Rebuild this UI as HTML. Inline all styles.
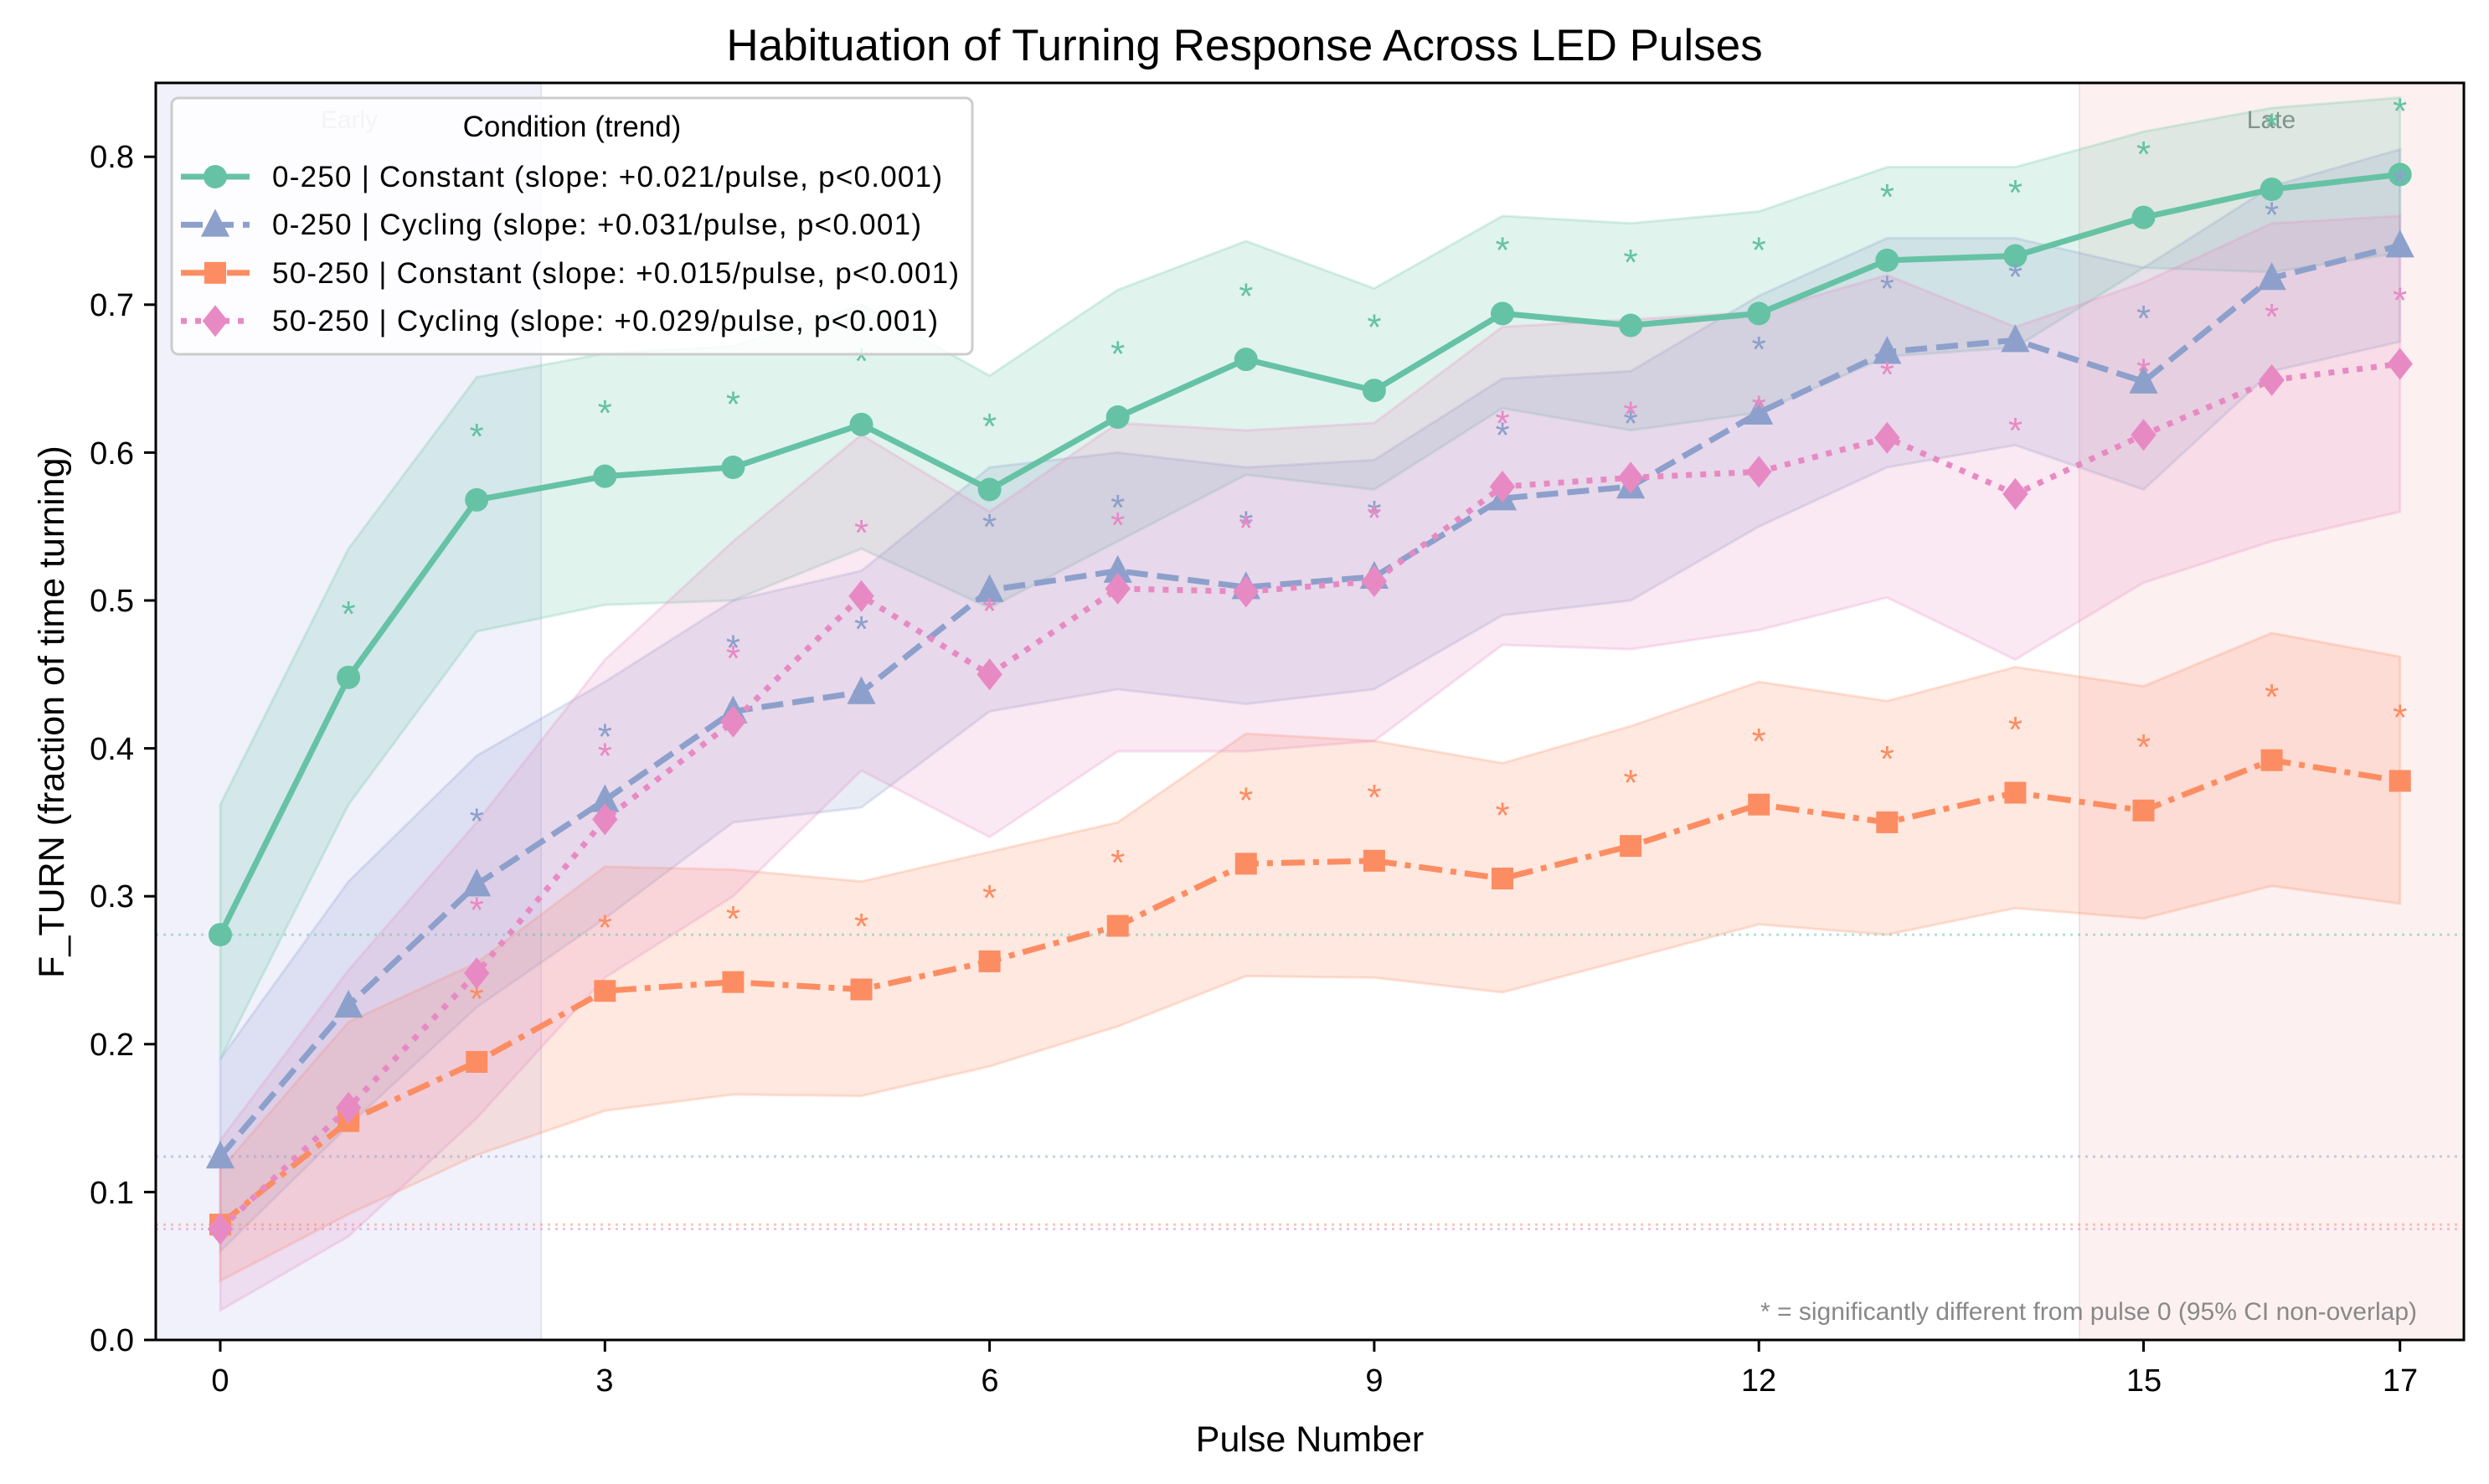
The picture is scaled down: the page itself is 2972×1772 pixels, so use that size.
<!DOCTYPE html>
<html><head><meta charset="utf-8"><style>
html,body{margin:0;padding:0;background:#fff;}
svg{display:block;font-family:"Liberation Sans","DejaVu Sans",sans-serif;}
</style></head><body>
<svg id="c" width="2972" height="1772" viewBox="0 0 2972 1772" xmlns="http://www.w3.org/2000/svg">
<rect width="2972" height="1772" fill="#fff"/>
<rect x="186" y="99" width="460" height="1501" fill="#f1f1fc"/>
<line x1="646" y1="99" x2="646" y2="1600" stroke="#e2e2f6" stroke-width="2"/>
<rect x="2483" y="99" width="459" height="1501" fill="#fdf0f0"/>
<line x1="2483" y1="99" x2="2483" y2="1600" stroke="#f9dede" stroke-width="2"/>
<text x="417" y="153" font-size="30" fill="#999" text-anchor="middle" opacity="0.5">Early</text>
<text x="2712" y="153" font-size="30" fill="#888" text-anchor="middle">Late</text>
<g id="data"></g>
<rect x="186" y="99" width="2756" height="1501" fill="none" stroke="#000" stroke-width="3"/>
<g id="ticks" stroke="#000" stroke-width="3"></g>
<g font-size="38" fill="#000" text-anchor="end">
<text x="160" y="1613">0.0</text>
<text x="160" y="1437">0.1</text>
<text x="160" y="1260">0.2</text>
<text x="160" y="1083">0.3</text>
<text x="160" y="907">0.4</text>
<text x="160" y="730">0.5</text>
<text x="160" y="554">0.6</text>
<text x="160" y="377">0.7</text>
<text x="160" y="200">0.8</text>
</g>
<g font-size="38" fill="#000" text-anchor="middle">
<text x="263" y="1661">0</text>
<text x="722" y="1661">3</text>
<text x="1182" y="1661">6</text>
<text x="1641" y="1661">9</text>
<text x="2100" y="1661">12</text>
<text x="2560" y="1661">15</text>
<text x="2866" y="1661">17</text>
</g>
<text x="1564" y="1733" font-size="43" text-anchor="middle">Pulse Number</text>
<text transform="translate(76,850) rotate(-90)" font-size="43" text-anchor="middle">F_TURN (fraction of time turning)</text>
<text x="1486" y="72" font-size="53" text-anchor="middle">Habituation of Turning Response Across LED Pulses</text>
<text x="2886" y="1576" font-size="30" fill="#888" text-anchor="end">* = significantly different from pulse 0 (95% CI non-overlap)</text>
<rect x="205" y="117" width="956" height="306" rx="8" fill="#fff" fill-opacity="0.82" stroke="#cccccc" stroke-width="3"/>
<text x="683" y="163" font-size="35" text-anchor="middle">Condition (trend)</text>
<g id="leg"></g>
<g font-size="35" fill="#000" textLength="0">
<text x="325" y="223" textLength="800">0-250 | Constant (slope: +0.021/pulse, p&lt;0.001)</text>
<text x="325" y="280" textLength="775">0-250 | Cycling (slope: +0.031/pulse, p&lt;0.001)</text>
<text x="325" y="338" textLength="820">50-250 | Constant (slope: +0.015/pulse, p&lt;0.001)</text>
<text x="325" y="395" textLength="795">50-250 | Cycling (slope: +0.029/pulse, p&lt;0.001)</text>
</g>
</svg>
<script>
const NS="http://www.w3.org/2000/svg";
const X=p=>263+p*153.1, Y=v=>1600-v*1766;
function el(t,a,parent){const e=document.createElementNS(NS,t);for(const k in a)e.setAttribute(k,a[k]);parent.appendChild(e);return e;}
const S=[
{c:"#66c2a5",m:"o",d:"",v:[.274,.448,.568,.584,.590,.619,.575,.624,.663,.642,.694,.686,.694,.730,.733,.759,.778,.788],
up:[.362,.535,.651,.667,.672,.700,.652,.710,.743,.711,.760,.755,.763,.793,.793,.817,.833,.840],
lo:[.190,.362,.479,.497,.500,.535,.495,.540,.585,.575,.630,.615,.627,.665,.671,.725,.722,.735],s0:1},
{c:"#8da0cb",m:"^",d:"26 11",v:[.124,.226,.308,.365,.425,.438,.507,.520,.509,.516,.569,.577,.627,.668,.676,.648,.718,.740],
up:[.190,.310,.395,.445,.500,.520,.590,.600,.590,.595,.650,.655,.706,.745,.745,.725,.780,.805],
lo:[.060,.145,.225,.285,.350,.360,.425,.440,.430,.440,.490,.500,.550,.590,.605,.575,.655,.675],s0:2},
{c:"#fc8d62",m:"s",d:"28 10 7 10",v:[.078,.148,.188,.236,.242,.237,.256,.280,.322,.324,.312,.334,.362,.350,.370,.358,.392,.378],
up:[.115,.215,.255,.320,.318,.310,.330,.350,.410,.405,.390,.415,.445,.432,.455,.442,.478,.462],
lo:[.040,.085,.125,.155,.166,.165,.185,.212,.246,.245,.235,.258,.281,.274,.292,.285,.307,.295],s0:2},
{c:"#e78ac3",m:"D",d:"7 10",v:[.075,.157,.248,.352,.418,.503,.450,.508,.506,.513,.577,.583,.587,.610,.572,.612,.649,.660],
up:[.135,.250,.350,.460,.540,.612,.560,.620,.615,.620,.685,.690,.695,.720,.685,.715,.755,.760],
lo:[.020,.070,.150,.245,.300,.385,.340,.398,.398,.405,.470,.467,.480,.502,.460,.512,.540,.560],s0:2}];
const g=document.getElementById("data");
function marker(m,x,y,c,parent,sz){sz=sz||1;
 if(m=="o")el("circle",{cx:x,cy:y,r:14*sz,fill:c},parent);
 else if(m=="^"){const r=19*sz;el("polygon",{points:`${x},${y-r} ${x+r*0.9},${y+r*0.75} ${x-r*0.9},${y+r*0.75}`,fill:c},parent);}
 else if(m=="s"){const r=13*sz;el("rect",{x:x-r,y:y-r,width:2*r,height:2*r,fill:c},parent);}
 else {const r=19*sz;el("polygon",{points:`${x},${y-r} ${x+r*0.8},${y} ${x},${y+r} ${x-r*0.8},${y}`,fill:c},parent);}
}
S.forEach(s=>{let p="";for(let i=0;i<18;i++)p+=(i?"L":"M")+X(i)+","+Y(s.up[i]);for(let i=17;i>=0;i--)p+="L"+X(i)+","+Y(s.lo[i]);
 el("path",{d:p+"Z",fill:s.c,"fill-opacity":0.2,stroke:s.c,"stroke-opacity":0.25,"stroke-width":3},g);});
S.forEach(s=>el("line",{x1:186,x2:2942,y1:Y(s.v[0]),y2:Y(s.v[0]),stroke:s.c,"stroke-opacity":0.5,"stroke-width":3,"stroke-dasharray":"3 6"},g));
S.forEach(s=>{let p="";for(let i=0;i<18;i++)p+=(i?"L":"M")+X(i)+","+Y(s.v[i]);
 const a={d:p,fill:"none",stroke:s.c,"stroke-width":7,"stroke-linejoin":"round"};if(s.d)a["stroke-dasharray"]=s.d;el("path",a,g);
 for(let i=0;i<18;i++)marker(s.m,X(i),Y(s.v[i]),s.c,g);
 for(let i=s.s0;i<18;i++){const t=el("text",{x:X(i),y:Y(s.v[i]+0.044)+17,"font-size":44,fill:s.c,"text-anchor":"middle"},g);t.textContent="*";}
});
const tk=document.getElementById("ticks");
[0,3,6,9,12,15,17].forEach(p=>el("line",{x1:X(p),x2:X(p),y1:1600,y2:1614},tk));
for(let k=0;k<=8;k++)el("line",{x1:172,x2:186,y1:Y(k/10),y2:Y(k/10)},tk);
const lg=document.getElementById("leg");
S.forEach((s,i)=>{const y=211+i*57.4;const a={x1:216,x2:298,y1:y,y2:y,stroke:s.c,"stroke-width":7};if(s.d)a["stroke-dasharray"]=s.d;el("line",a,lg);marker(s.m,257,y,s.c,lg);});
</script>
</body></html>
